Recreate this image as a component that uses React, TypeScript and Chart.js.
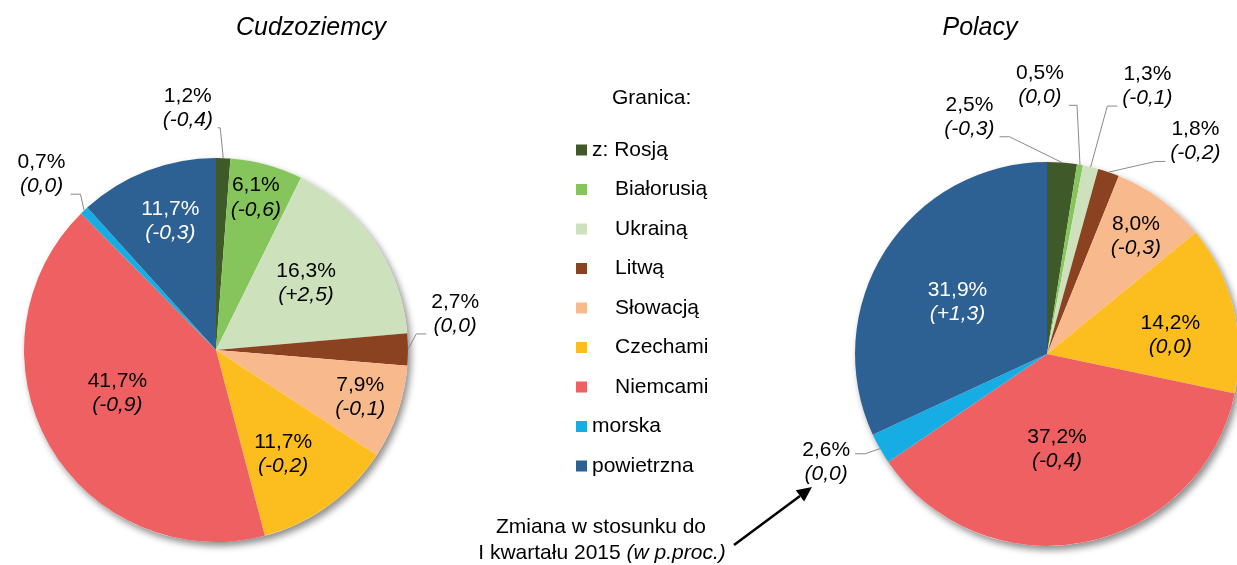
import React, { useEffect, useRef } from 'react';
import { Chart, registerables } from 'chart.js';
Chart.register(...registerables);

// ---------- data ----------
const categories = ['z: Rosją', 'Białorusią', 'Ukrainą', 'Litwą', 'Słowacją', 'Czechami', 'Niemcami', 'morska', 'powietrzna'];
const cudzoziemcyShares = [1.2, 6.1, 16.3, 2.7, 7.9, 11.7, 41.7, 0.7, 11.7];
const cudzoziemcyChanges = [-0.4, -0.6, 2.5, 0.0, -0.1, -0.2, -0.9, 0.0, -0.3];
const polacyShares = [2.5, 0.5, 1.3, 1.8, 8.0, 14.2, 37.2, 2.6, 31.9];
const polacyChanges = [-0.3, 0.0, -0.1, -0.2, -0.3, 0.0, -0.4, 0.0, 1.3];
const chartTitles = ['Cudzoziemcy', 'Polacy'];
const legendTitle = 'Granica:';
const noteLine1 = 'Zmiana w stosunku do';
const noteLine2a = 'I kwartału 2015 ';
const noteLine2b = '(w p.proc.)';

// ---------- styles ----------
const colors = ['#3F5A28', '#86C55C', '#CDE1BC', '#8B4220', '#F8BA8C', '#FCBE1E', '#EE6061', '#16ADE4', '#2D6194'];
const legendIndent = [false, true, true, true, true, true, true, false, false];
const labelTextColors = ['#000', '#000', '#000', '#000', '#000', '#000', '#000', '#000', '#fff'];
// [radius factor, angle offset (deg) from slice middle]
const leftLabelLayout: [number, number][] = [
  [1.27, -8.8], [0.82, -0.65], [0.585, -2.3], [1.26, -8.4], [0.79, -0.9], [0.645, 3.0], [0.56, 6.2], [1.29, -1.4], [0.71, 1.5],
];
const rightLabelLayout: [number, number][] = [
  [1.30, -22.6], [1.40, -11.4], [1.49, 7.4], [1.35, 16.2], [0.77, 0.6], [0.65, 4.9], [0.50, 5.2], [1.28, 3.5], [0.54, -2.3],
];
const FONT = '"Liberation Sans", Arial, sans-serif';
const LABEL_SIZE = 21;

function fmt(v: number) {
  return v.toFixed(1).replace('.', ',');
}
function fmtChange(v: number) {
  const sign = v > 0 ? '+' : v < 0 ? '-' : '';
  return '(' + sign + fmt(Math.abs(v)) + ')';
}

function makeLabelPlugin(id: string, changes: number[], layout: [number, number][]) {
  return {
    id,
    beforeDatasetsDraw(chart: any) {
      const arc = chart.getDatasetMeta(0).data[0] as any;
      const ctx = chart.ctx;
      ctx.save();
      ctx.shadowColor = 'rgba(0,0,0,0.45)';
      ctx.shadowBlur = 7;
      ctx.shadowOffsetX = 3;
      ctx.shadowOffsetY = 4;
      ctx.beginPath();
      ctx.arc(arc.x, arc.y, arc.outerRadius, 0, Math.PI * 2);
      ctx.fillStyle = '#fff';
      ctx.fill();
      ctx.restore();
    },
    afterDatasetsDraw(chart: any) {
      const meta = chart.getDatasetMeta(0);
      const values = chart.data.datasets[0].data as number[];
      const ctx = chart.ctx;
      meta.data.forEach((el: any, i: number) => {
        const { x, y, outerRadius: r, startAngle, endAngle } = el;
        const mid = (startAngle + endAngle) / 2;
        const [f, offDeg] = layout[i];
        const a = mid + (offDeg * Math.PI) / 180;
        const lx = x + f * r * Math.cos(a);
        const ly = y + f * r * Math.sin(a);
        const l1 = fmt(values[i]) + '%';
        const l2 = fmtChange(changes[i]);
        ctx.save();
        ctx.textAlign = 'center';
        ctx.textBaseline = 'middle';
        ctx.fillStyle = labelTextColors[i];
        ctx.font = `${LABEL_SIZE}px ${FONT}`;
        const w1 = ctx.measureText(l1).width;
        ctx.fillText(l1, lx, ly - 12);
        ctx.font = `italic ${LABEL_SIZE}px ${FONT}`;
        const w2 = ctx.measureText(l2).width;
        ctx.fillText(l2, lx, ly + 12);
        if (f > 1) {
          const ex = x + r * Math.cos(mid);
          const ey = y + r * Math.sin(mid);
          const hw = Math.max(w1, w2) / 2 + 5;
          const dir = ex > lx ? 1 : -1;
          const side = lx + dir * hw;
          const ay = Math.min(Math.max(ey, ly - 8), ly + 20);
          const knee = side + dir * Math.min(10, Math.max(0, (ex - side) * dir - 3));
          ctx.strokeStyle = '#8a8a8a';
          ctx.lineWidth = 1;
          ctx.beginPath();
          ctx.moveTo(side, ay);
          ctx.lineTo(knee, ay);
          ctx.lineTo(ex, ey);
          ctx.stroke();
        }
        ctx.restore();
      });
    },
  };
}

const decorPlugin = {
  id: 'decor',
  afterDraw(chart: any) {
    const ctx = chart.ctx as CanvasRenderingContext2D;
    ctx.save();
    // titles
    ctx.fillStyle = '#000';
    ctx.textAlign = 'center';
    ctx.textBaseline = 'middle';
    ctx.font = `italic 25px ${FONT}`;
    ctx.fillText(chartTitles[0], 311, 28);
    ctx.fillText(chartTitles[1], 980, 28);
    // legend
    ctx.font = `21px ${FONT}`;
    ctx.textAlign = 'left';
    ctx.fillText(legendTitle, 612, 98);
    categories.forEach((c, i) => {
      const yy = 150 + i * 39.5;
      ctx.fillStyle = colors[i];
      ctx.fillRect(576, yy - 5.5, 11, 11);
      ctx.fillStyle = '#000';
      ctx.fillText(c, legendIndent[i] ? 615 : 592, yy);
    });
    // note
    ctx.textAlign = 'center';
    ctx.fillText(noteLine1, 601, 527);
    ctx.textAlign = 'left';
    ctx.font = `21px ${FONT}`;
    const wa = ctx.measureText(noteLine2a).width;
    ctx.font = `italic 21px ${FONT}`;
    const wb = ctx.measureText(noteLine2b).width;
    const sx = 602 - (wa + wb) / 2;
    ctx.font = `21px ${FONT}`;
    ctx.fillText(noteLine2a, sx, 553);
    ctx.font = `italic 21px ${FONT}`;
    ctx.fillText(noteLine2b, sx + wa, 553);
    // arrow
    const x0 = 734, y0 = 545, x1 = 812, y1 = 487;
    const ang = Math.atan2(y1 - y0, x1 - x0);
    const hl = 15, hwid = 7;
    ctx.strokeStyle = '#000';
    ctx.lineWidth = 2.5;
    ctx.beginPath();
    ctx.moveTo(x0, y0);
    ctx.lineTo(x1 - hl * Math.cos(ang), y1 - hl * Math.sin(ang));
    ctx.stroke();
    ctx.fillStyle = '#000';
    ctx.beginPath();
    ctx.moveTo(x1, y1);
    ctx.lineTo(x1 - hl * Math.cos(ang) + hwid * Math.sin(ang), y1 - hl * Math.sin(ang) - hwid * Math.cos(ang));
    ctx.lineTo(x1 - hl * Math.cos(ang) - hwid * Math.sin(ang), y1 - hl * Math.sin(ang) + hwid * Math.cos(ang));
    ctx.closePath();
    ctx.fill();
    ctx.restore();
  },
};

function pieConfig(shares: number[], padding: any, plugins: any[]) {
  return {
    type: 'pie' as const,
    data: {
      labels: categories,
      datasets: [{ data: shares, backgroundColor: colors, borderWidth: 0, hoverOffset: 0 }],
    },
    options: {
      responsive: false,
      animation: false as const,
      devicePixelRatio: 1,
      events: [] as any[],
      layout: { padding },
      plugins: { legend: { display: false }, tooltip: { enabled: false }, title: { display: false } },
    },
    plugins,
  };
}

export default function App() {
  const leftRef = useRef<HTMLCanvasElement>(null);
  const rightRef = useRef<HTMLCanvasElement>(null);

  useEffect(() => {
    const left = new Chart(
      leftRef.current as HTMLCanvasElement,
      pieConfig(cudzoziemcyShares, { left: 24, right: 829, top: 158, bottom: 23 }, [
        makeLabelPlugin('lblL', cudzoziemcyChanges, leftLabelLayout),
        decorPlugin,
      ]) as any
    );
    const right = new Chart(
      rightRef.current as HTMLCanvasElement,
      pieConfig(polacyShares, { left: 855, right: 11, top: 162, bottom: 19 }, [
        makeLabelPlugin('lblR', polacyChanges, rightLabelLayout),
      ]) as any
    );
    return () => {
      left.destroy();
      right.destroy();
    };
  }, []);

  return (
    <div style={{ position: 'fixed', left: 0, top: 0, width: 1237, height: 565, overflow: 'hidden', background: '#fff' }}>
      <canvas ref={leftRef} width={1237} height={565} style={{ position: 'absolute', left: 0, top: 0 }} />
      <canvas ref={rightRef} width={1250} height={565} style={{ position: 'absolute', left: 0, top: 0 }} />
    </div>
  );
}
